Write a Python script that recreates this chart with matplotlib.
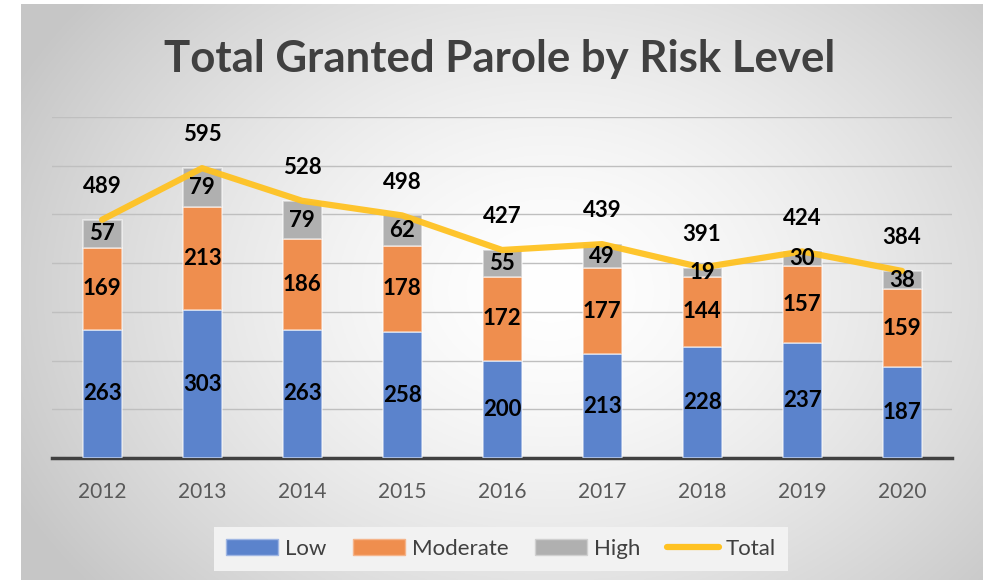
import numpy as np
import matplotlib
matplotlib.use("Agg")
import matplotlib.pyplot as plt
from matplotlib.patches import Patch
from matplotlib.lines import Line2D

plt.rcParams['font.family'] = ['Lato', 'DejaVu Sans']

years = ['2012', '2013', '2014', '2015', '2016', '2017', '2018', '2019', '2020']
low = [263, 303, 263, 258, 200, 213, 228, 237, 187]
moderate = [169, 213, 186, 178, 172, 177, 144, 157, 159]
high = [57, 79, 79, 62, 55, 49, 19, 30, 38]
total = [489, 595, 528, 498, 427, 439, 391, 424, 384]

c_low = '#5B83CC'
c_mod = '#EF8E4E'
c_high = '#B0B0B0'
c_tot = '#FFC222'
txt_dark = '#404040'

W, H = 997, 580
fig = plt.figure(figsize=(W / 100, H / 100), dpi=100)
fig.patch.set_facecolor('white')

# background gradient panel
bg = fig.add_axes([21 / W, 0, (982 - 21) / W, (580 - 4) / H])
ny, nx = 300, 500
yy, xx = np.mgrid[0:ny, 0:nx]
cx, cy = nx * 0.55, ny * 0.5
r = np.sqrt(((xx - cx) / (nx * 0.62)) ** 2 + ((yy - cy) / (ny * 0.8)) ** 2)
r = np.clip(r, 0, 1)
val = 1.0 - (1.0 - 0.78) * r ** 1.5
img = np.dstack([val, val, val])
bg.imshow(img, aspect='auto', extent=[0, 1, 0, 1], origin='lower')
bg.set_xlim(0, 1)
bg.set_ylim(0, 1)
bg.axis('off')
bg.set_zorder(-5)

ax = fig.add_axes([52 / W, 122 / H, 900 / W, 341 / H])
ax.patch.set_alpha(0)
x = np.arange(len(years))
bw = 0.39
edge = (1, 1, 1, 0.55)
ax.bar(x, low, bw, color=c_low, edgecolor=edge, linewidth=1.2, zorder=3)
ax.bar(x, moderate, bw, bottom=low, color=c_mod, edgecolor=edge, linewidth=1.2, zorder=3)
bot2 = np.array(low) + np.array(moderate)
ax.bar(x, high, bw, bottom=bot2, color=c_high, edgecolor=edge, linewidth=1.2, zorder=3)
ax.plot(x, total, color=c_tot, lw=4.5, solid_capstyle='round', solid_joinstyle='round', zorder=4, alpha=0.95)

lab_fs = 16
for i in range(len(years)):
    ax.text(x[i], low[i] / 2, str(low[i]), ha='center', va='center', fontsize=lab_fs, fontweight='bold', color='black', zorder=5)
    ax.text(x[i], low[i] + moderate[i] / 2, str(moderate[i]), ha='center', va='center', fontsize=lab_fs, fontweight='bold', color='black', zorder=5)
    ax.text(x[i], bot2[i] + high[i] / 2, str(high[i]), ha='center', va='center', fontsize=lab_fs, fontweight='bold', color='black', zorder=5)
    ax.annotate(str(total[i]), (x[i], total[i]), xytext=(0, 24), textcoords='offset points',
                ha='center', va='center', fontsize=lab_fs, fontweight='bold', color='black', zorder=5)

ax.set_xlim(-0.5, len(years) - 0.5)
ax.set_ylim(0, 700)
ax.set_yticks(np.arange(100, 701, 100))
ax.yaxis.grid(True, color='#BFBFBF', lw=1.0, zorder=0)
ax.set_axisbelow(True)
ax.tick_params(axis='y', length=0, labelleft=False)
ax.set_xticks(x)
ax.set_xticklabels(years, fontsize=15, color='#595959')
ax.tick_params(axis='x', length=0, pad=17)
for s in ['top', 'right', 'left']:
    ax.spines[s].set_visible(False)
ax.spines['bottom'].set_color('#404040')
ax.spines['bottom'].set_linewidth(2.5)

fig.text(500 / W, 1 - 59 / H, 'Total Granted Parole by Risk Level', ha='center', va='center',
         fontsize=31.5, fontweight='bold', color=txt_dark)

handles = [Patch(facecolor=c_low, edgecolor='#9fb6e3', label='Low'),
           Patch(facecolor=c_mod, edgecolor='#f5b48a', label='Moderate'),
           Patch(facecolor=c_high, edgecolor='#d0d0d0', label='High'),
           Line2D([0], [0], color=c_tot, lw=4.5, solid_capstyle='round', label='Total')]
leg = fig.legend(handles=handles, loc='center', bbox_to_anchor=(501 / W, 1 - 549 / H), ncol=4,
                 fontsize=16, frameon=True, facecolor='#F2F2F2', edgecolor='none', framealpha=1,
                 handlelength=2.35, handleheight=0.7, handletextpad=0.3, columnspacing=1.2,
                 borderpad=0.55, borderaxespad=0, fancybox=False)
for t in leg.get_texts():
    t.set_color(txt_dark)

fig.savefig('out.png', dpi=100)
